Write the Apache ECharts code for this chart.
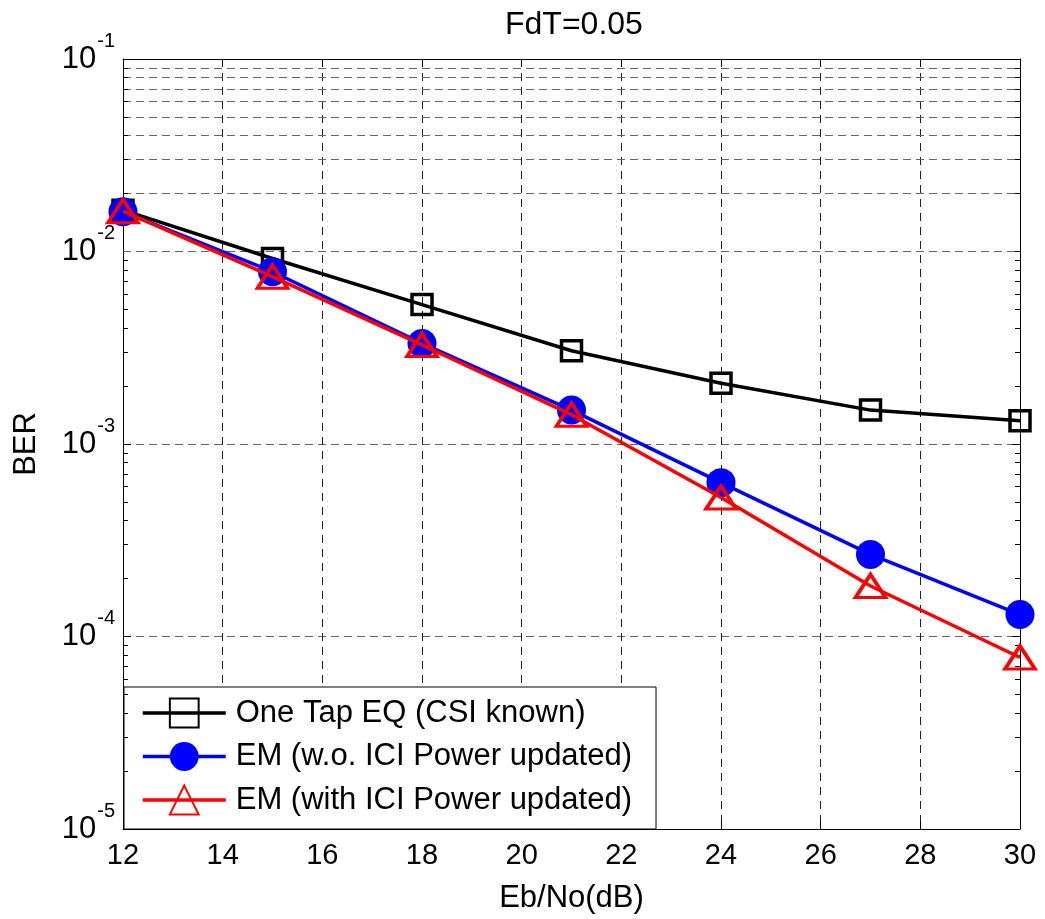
<!DOCTYPE html>
<html>
<head>
<meta charset="utf-8">
<script src="https://cdn.jsdelivr.net/npm/echarts@6/dist/echarts.min.js"></script>
<style>html,body{margin:0;padding:0;background:#fff;}#c{width:1045px;height:919px;}</style>
</head>
<body>
<div id="c"></div>
<script>
// ---- data ----
var EBNO = [12, 15, 18, 21, 24, 27, 30];
var ONE_TAP = [0.0164, 0.0092, 0.0053, 0.00305, 0.00207, 0.0015, 0.00132];
var EM_WO = [0.0161, 0.00785, 0.00333, 0.0015, 0.00063, 0.000267, 0.00013];
var EM_WITH = [0.0162, 0.0074, 0.00327, 0.00142, 0.000527, 0.000183, 0.0000778];
var NAMES = ['One Tap EQ (CSI known)', 'EM (w.o. ICI Power updated)', 'EM (with ICI Power updated)'];
var X_TICKS = [12, 14, 16, 18, 20, 22, 24, 26, 28, 30];
var Y_DECADES = [-5, -4, -3, -2, -1];
var MINOR_MULT = [2, 3, 4, 5, 6, 7, 8, 9];

var FONT = 'Liberation Sans, Arial, sans-serif';

function pairs(ys) { return EBNO.map(function (x, i) { return [x, ys[i]]; }); }

// minor gridlines and minor ticks (log decades)
var minorVals = [];
Y_DECADES.slice(0, -1).forEach(function (d) {
  MINOR_MULT.forEach(function (m) { minorVals.push(m * Math.pow(10, d)); });
});
var minorLines = minorVals.map(function (v) { return { yAxis: v }; });
var minorTicks = [];
minorVals.forEach(function (v) {
  minorTicks.push([{ coord: [12, v] }, { coord: [12.1, v] }]);
  minorTicks.push([{ coord: [29.9, v] }, { coord: [30, v] }]);
});

var chart = echarts.init(document.getElementById('c'), null, { renderer: 'canvas' });

var LW = 3.5;
var hollow = function (c) { return { color: 'rgba(0,0,0,0)', borderColor: c, borderWidth: LW }; };

chart.setOption({
  animation: false,
  backgroundColor: '#fff',
  textStyle: { fontFamily: FONT },
  title: {
    text: 'FdT=0.05', left: 500, top: 4,
    textStyle: { fontFamily: FONT, fontSize: 32, fontWeight: 'normal', color: '#000' }
  },
  grid: { left: 123, top: 59, right: 25, bottom: 90, outerBoundsMode: 'none' },
  legend: {
    orient: 'vertical', left: 124, top: 687,
    padding: [8, 24, 11, 17], itemGap: 7.5,
    itemWidth: 83, itemHeight: 36,
    backgroundColor: '#fff', borderColor: '#000', borderWidth: 1, borderRadius: 0,
    lineStyle: { width: LW },
    textStyle: { fontFamily: FONT, fontSize: 31, color: '#000', lineHeight: 36, padding: [0, 0, 0, 5] },
    data: NAMES, selectedMode: false
  },
  xAxis: [{
    type: 'value', min: 12, max: 30, interval: 2, position: 'bottom',
    name: 'Eb/No(dB)', nameLocation: 'middle', nameGap: 54,
    nameTextStyle: { fontFamily: FONT, fontSize: 31, color: '#000' },
    axisLine: { show: true, onZero: false, lineStyle: { color: '#000', width: 1 } },
    axisTick: { show: true, inside: true, length: 8, lineStyle: { color: '#000' } },
    axisLabel: { fontFamily: FONT, fontSize: 29, color: '#000', margin: 12,
      customValues: X_TICKS },
    splitLine: { show: true, lineStyle: { color: '#222', type: [8, 6], width: 1 } }
  }, {
    type: 'value', min: 12, max: 30, interval: 2, position: 'top',
    axisLine: { show: true, onZero: false, lineStyle: { color: '#000', width: 1 } },
    axisTick: { show: true, inside: true, length: 8, lineStyle: { color: '#000' } },
    axisLabel: { show: false }, splitLine: { show: false }
  }],
  yAxis: [{
    type: 'log', logBase: 10, min: 1e-5, max: 1e-1, position: 'left',
    name: 'BER', nameLocation: 'middle', nameGap: 81,
    nameTextStyle: { fontFamily: FONT, fontSize: 31, color: '#000' },
    axisLine: { show: true, onZero: false, lineStyle: { color: '#000', width: 1 } },
    axisTick: { show: true, inside: true, length: 8, lineStyle: { color: '#000' } },
    axisLabel: {
      color: '#000', margin: 8,
      formatter: function (v) {
        var e = Math.round(Math.log10(v));
        return '{b|10}{s|' + e + '}';
      },
      rich: {
        b: { fontFamily: FONT, fontSize: 31, color: '#000' },
        s: { fontFamily: FONT, fontSize: 20, color: '#000', padding: [0, 0, 36, 1] }
      }
    },
    splitLine: { show: true, lineStyle: { color: '#666', type: [8, 5], width: 1 } }
  }, {
    type: 'log', logBase: 10, min: 1e-5, max: 1e-1, position: 'right',
    axisLine: { show: true, onZero: false, lineStyle: { color: '#000', width: 1 } },
    axisTick: { show: true, inside: true, length: 8, lineStyle: { color: '#000' } },
    axisLabel: { show: false }, splitLine: { show: false }
  }],
  series: [{
    name: '_grid', type: 'line', data: [], silent: true, z: 1,
    markLine: {
      silent: true, symbol: 'none', label: { show: false }, animation: false,
      lineStyle: { color: '#666', type: [8, 5], width: 1 },
      emphasis: { disabled: true },
      data: minorLines
    }
  }, {
    name: '_ticks', type: 'line', data: [], silent: true, z: 3,
    markLine: {
      silent: true, symbol: 'none', label: { show: false }, animation: false,
      lineStyle: { color: '#000', type: 'solid', width: 1 },
      emphasis: { disabled: true },
      data: minorTicks
    }
  }, {
    name: NAMES[0], type: 'line', data: pairs(ONE_TAP), clip: false, z: 5,
    symbol: 'rect', symbolSize: 20,
    lineStyle: { color: '#000', width: LW }, itemStyle: hollow('#000'),
    emphasis: { disabled: true }
  }, {
    name: NAMES[1], type: 'line', data: pairs(EM_WO), clip: false, z: 6,
    symbol: 'circle', symbolSize: 29,
    lineStyle: { color: '#0000ff', width: LW }, itemStyle: { color: '#0000ff', borderWidth: 0 },
    emphasis: { disabled: true }
  }, {
    name: NAMES[2], type: 'line', data: pairs(EM_WITH), clip: false, z: 7,
    symbol: 'triangle', symbolSize: [30, 23],
    lineStyle: { color: '#ff0000', width: LW }, itemStyle: hollow('#ff0000'),
    emphasis: { disabled: true }
  }]
});
</script>
</body>
</html>
